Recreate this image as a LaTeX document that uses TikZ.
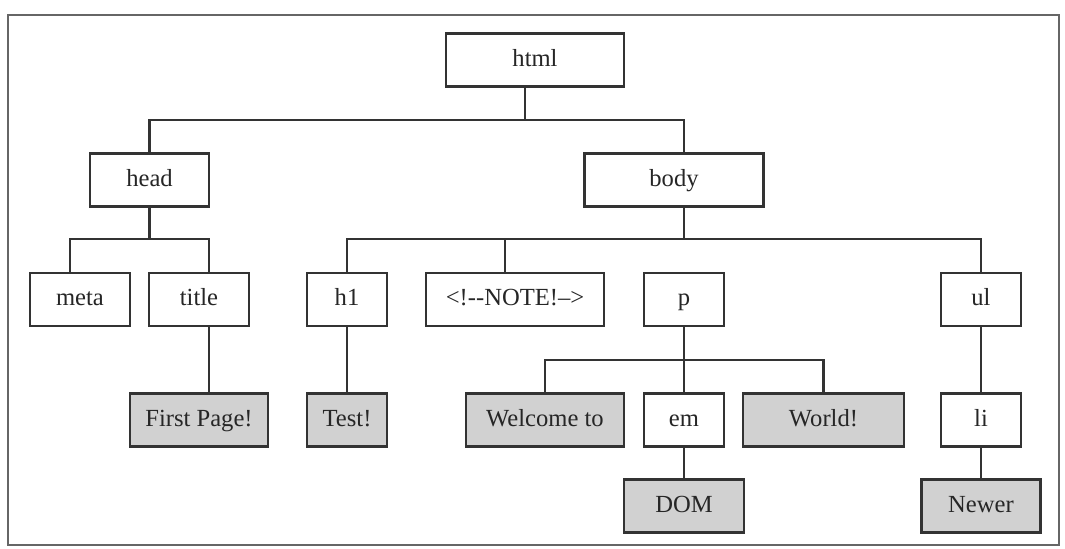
\documentclass[tikz,border=0pt]{standalone}
\usepackage{fontspec}
\setmainfont{Liberation Serif}

\begin{document}
\begin{tikzpicture}[x=0.02cm,y=-0.02cm,line width=1.3pt]
	\tikzstyle{tag}=[rectangle, draw=black!80, fill=white, text=black!85, minimum height=1.06cm, inner sep=0pt, text height=2ex, text depth=0.5ex, font=\fontsize{14}{16}\selectfont]
	\tikzstyle{txt}=[tag, fill=black!18]
	\tikzstyle{link}=[draw=black!80]
	
	\useasboundingbox (0,0) rectangle (1065,548);
	\draw[black!60] (8,15) rectangle (1059,545);
	
	\node[tag, minimum width=3.56cm] (html)    at (535,60)    {html};
	\node[tag, minimum width=2.38cm] (head)    at (149.5,180) {head};
	\node[tag, minimum width=3.58cm] (body)    at (674,180)   {body};
	\node[tag, minimum width=2cm]    (meta)    at (80,299.5)  {meta};
	\node[tag, minimum width=2cm]    (title)   at (199,299.5) {title};
	\node[tag, minimum width=1.6cm]  (h1)      at (347,299.5) {h1};
	\node[tag, minimum width=3.56cm] (note)    at (515,299.5) {<!-{}-NOTE!–>};
	\node[tag, minimum width=1.6cm]  (p)       at (684,299.5) {p};
	\node[tag, minimum width=1.6cm]  (ul)      at (981,299.5) {ul};
	\node[txt, minimum width=2.76cm] (first)   at (199,420)   {First Page!};
	\node[txt, minimum width=1.6cm]  (test)    at (347,420)   {Test!};
	\node[txt, minimum width=3.16cm] (welcome) at (545,420)   {Welcome to};
	\node[tag, minimum width=1.6cm]  (em)      at (684,420)   {em};
	\node[txt, minimum width=3.22cm] (world)   at (823.5,420) {World!};
	\node[tag, minimum width=1.6cm]  (li)      at (981,420)   {li};
	\node[txt, minimum width=2.4cm]  (dom)     at (684,506)   {DOM};
	\node[txt, minimum width=2.38cm] (newer)   at (981,506)   {Newer};
	
	% heights of the branch bars
	\coordinate (b1) at (0,120);
	\coordinate (b2) at (0,239);
	\coordinate (b3) at (0,360);
	\coordinate (html-x) at ([xshift=-2mm]html.south);
	\coordinate (body-x) at ([xshift=2mm]body.south);
	
	\draw[link] (html-x) -- (html-x |- b1) -| (head.north);
	\draw[link] (html-x |- b1) -| ([xshift=2mm]body.north);
	\draw[link] (head.south) -- (head.south |- b2) -| ([xshift=-2mm]meta.north);
	\draw[link] (head.south |- b2) -| ([xshift=2mm]title.north);
	\draw[link] ([xshift=2mm]title.south) -- ([xshift=2mm]first.north);
	\draw[link] (body-x) -- (body-x |- b2) -| (h1.north);
	\draw[link] (body-x |- b2) -| ([xshift=-2mm]note.north);
	\draw[link] (body-x |- b2) -| (ul.north);
	\draw[link] (h1.south) -- (test.north);
	\draw[link] (p.south) -- (em.north);
	\draw[link] (p.south |- b3) -| (welcome.north);
	\draw[link] (p.south |- b3) -| (world.north);
	\draw[link] (em.south) -- (dom.north);
	\draw[link] (ul.south) -- (li.north);
	\draw[link] (li.south) -- (newer.north);
	
\end{tikzpicture}
\end{document}
